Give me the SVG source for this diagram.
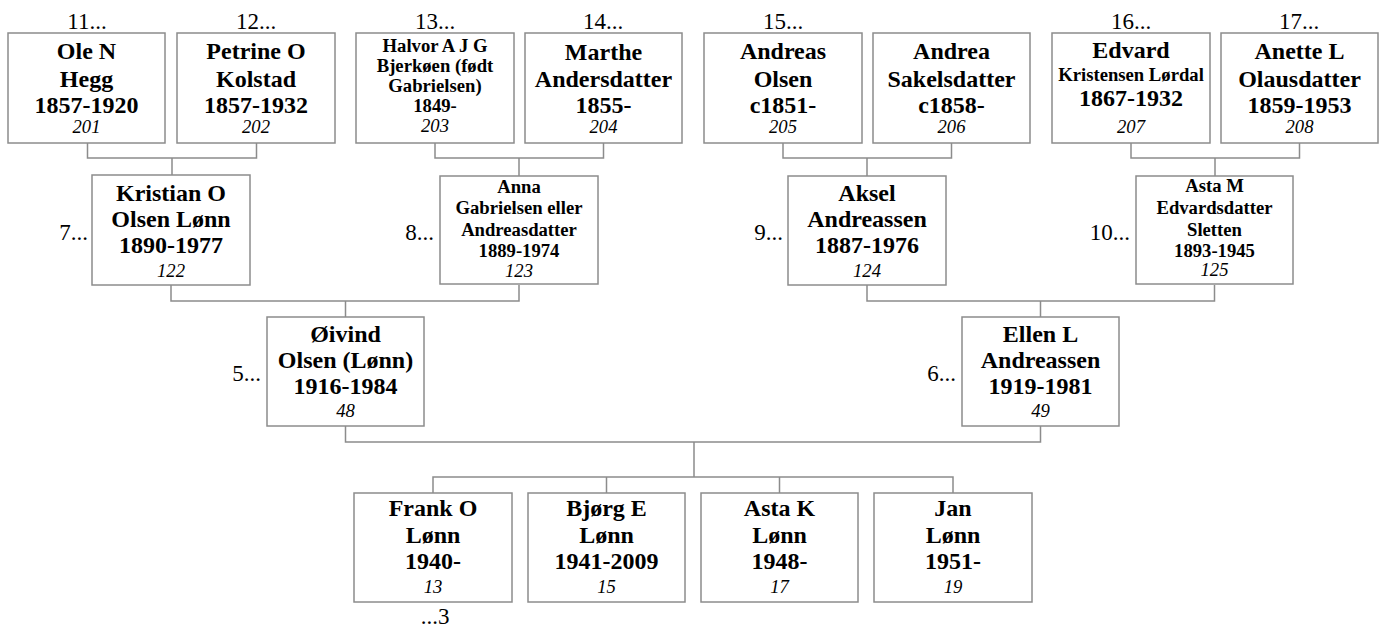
<svg xmlns="http://www.w3.org/2000/svg" width="1381" height="628" viewBox="0 0 1381 628">
<style>
.box{fill:#fff;stroke:#8c8c8c;stroke-width:1.5}
.ln{fill:none;stroke:#8c8c8c;stroke-width:1.5}
text{font-family:"Liberation Serif","Times New Roman",serif;fill:#000;text-anchor:middle}
.b{font-weight:bold;font-size:24px}
.s{font-weight:bold;font-size:18.67px}
.n{font-style:italic;font-size:18.67px}
.l{font-size:23px}
.le{font-size:23px;text-anchor:end}
</style>
<rect width="1381" height="628" fill="#fff"/>
<g id="connectors">
<path class="ln" d="M87.5,143V158H256.5V143M172,158V175"/>
<path class="ln" d="M435,143V158H603.5V143M519,158V176"/>
<path class="ln" d="M783,143V158H951.5V143M867,158V176"/>
<path class="ln" d="M1131,143V158H1299.5V143M1215,158V176"/>
<path class="ln" d="M171,285V301H519V285M345.5,301V317"/>
<path class="ln" d="M867,285V301H1214.5V285M1040.5,301V317"/>
<path class="ln" d="M345.5,426V442H1040.5V426M694,442V477"/>
<path class="ln" d="M433,493V477H953V493M606.5,477V493M779.5,477V493"/>
</g>
<g id="n201"><text class="l" x="87" y="29">11...</text><rect class="box" x="8" y="33" width="157" height="110"/>
<text class="b" x="86.5" y="59">Ole N</text><text class="b" x="86.5" y="87">Hegg</text><text class="b" x="86.5" y="113">1857-1920</text><text class="n" x="86.5" y="133">201</text></g>
<g id="n202"><text class="l" x="256" y="29">12...</text><rect class="box" x="177" y="33" width="158" height="110"/>
<text class="b" x="256" y="59">Petrine O</text><text class="b" x="256" y="87">Kolstad</text><text class="b" x="256" y="113">1857-1932</text><text class="n" x="256" y="133">202</text></g>
<g id="n203"><text class="l" x="435" y="29">13...</text><rect class="box" x="356" y="33" width="158" height="110"/>
<text class="s" x="435" y="52">Halvor A J G</text><text class="s" x="435" y="72">Bjerkøen (født</text><text class="s" x="435" y="92">Gabrielsen)</text><text class="s" x="435" y="112">1849-</text><text class="n" x="435" y="132">203</text></g>
<g id="n204"><text class="l" x="603" y="29">14...</text><rect class="box" x="525" y="33" width="157" height="110"/>
<text class="b" x="603.5" y="60">Marthe</text><text class="b" x="603.5" y="87">Andersdatter</text><text class="b" x="603.5" y="113">1855-</text><text class="n" x="603.5" y="133">204</text></g>
<g id="n205"><text class="l" x="783" y="29">15...</text><rect class="box" x="704" y="33" width="158" height="110"/>
<text class="b" x="783" y="59">Andreas</text><text class="b" x="783" y="87">Olsen</text><text class="b" x="783" y="113">c1851-</text><text class="n" x="783" y="133">205</text></g>
<g id="n206"><rect class="box" x="873" y="33" width="157" height="110"/>
<text class="b" x="951.5" y="59">Andrea</text><text class="b" x="951.5" y="87">Sakelsdatter</text><text class="b" x="951.5" y="113">c1858-</text><text class="n" x="951.5" y="133">206</text></g>
<g id="n207"><text class="l" x="1131" y="29">16...</text><rect class="box" x="1052" y="33" width="158" height="110"/>
<text class="b" x="1131" y="58">Edvard</text><text class="s" x="1131" y="81">Kristensen Lørdal</text><text class="b" x="1131" y="106">1867-1932</text><text class="n" x="1131" y="133">207</text></g>
<g id="n208"><text class="l" x="1299" y="29">17...</text><rect class="box" x="1221" y="33" width="157" height="110"/>
<text class="b" x="1299.5" y="59">Anette L</text><text class="b" x="1299.5" y="87">Olausdatter</text><text class="b" x="1299.5" y="113">1859-1953</text><text class="n" x="1299.5" y="133">208</text></g>
<g id="n122"><text class="le" x="88" y="240">7...</text><rect class="box" x="92" y="175" width="158" height="110"/>
<text class="b" x="171" y="201">Kristian O</text><text class="b" x="171" y="227">Olsen Lønn</text><text class="b" x="171" y="253">1890-1977</text><text class="n" x="171" y="277">122</text></g>
<g id="n123"><text class="le" x="434" y="240">8...</text><rect class="box" x="440" y="176" width="158" height="108"/>
<text class="s" x="519" y="193">Anna</text><text class="s" x="519" y="214">Gabrielsen eller</text><text class="s" x="519" y="236">Andreasdatter</text><text class="s" x="519" y="257">1889-1974</text><text class="n" x="519" y="277">123</text></g>
<g id="n124"><text class="le" x="783" y="240">9...</text><rect class="box" x="788" y="176" width="158" height="109"/>
<text class="b" x="867" y="201">Aksel</text><text class="b" x="867" y="227">Andreassen</text><text class="b" x="867" y="253">1887-1976</text><text class="n" x="867" y="277">124</text></g>
<g id="n125"><text class="le" x="1130" y="240">10...</text><rect class="box" x="1136" y="176" width="157" height="108"/>
<text class="s" x="1214.5" y="192">Asta M</text><text class="s" x="1214.5" y="214">Edvardsdatter</text><text class="s" x="1214.5" y="236">Sletten</text><text class="s" x="1214.5" y="257">1893-1945</text><text class="n" x="1214.5" y="276">125</text></g>
<g id="n48"><text class="le" x="261" y="381">5...</text><rect class="box" x="267" y="317" width="157" height="109"/>
<text class="b" x="345.5" y="342">Øivind</text><text class="b" x="345.5" y="368">Olsen (Lønn)</text><text class="b" x="345.5" y="394">1916-1984</text><text class="n" x="345.5" y="417">48</text></g>
<g id="n49"><text class="le" x="956" y="381">6...</text><rect class="box" x="962" y="317" width="157" height="109"/>
<text class="b" x="1040.5" y="342">Ellen L</text><text class="b" x="1040.5" y="368">Andreassen</text><text class="b" x="1040.5" y="394">1919-1981</text><text class="n" x="1040.5" y="417">49</text></g>
<g id="n13"><rect class="box" x="354" y="493" width="158" height="109"/>
<text class="b" x="433" y="516">Frank O</text><text class="b" x="433" y="543">Lønn</text><text class="b" x="433" y="569">1940-</text><text class="n" x="433" y="593">13</text><text class="l" x="435" y="624">...3</text></g>
<g id="n15"><rect class="box" x="528" y="493" width="157" height="109"/>
<text class="b" x="606.5" y="516">Bjørg E</text><text class="b" x="606.5" y="543">Lønn</text><text class="b" x="606.5" y="569">1941-2009</text><text class="n" x="606.5" y="593">15</text></g>
<g id="n17"><rect class="box" x="701" y="493" width="157" height="109"/>
<text class="b" x="779.5" y="516">Asta K</text><text class="b" x="779.5" y="543">Lønn</text><text class="b" x="779.5" y="569">1948-</text><text class="n" x="779.5" y="593">17</text></g>
<g id="n19"><rect class="box" x="874" y="493" width="158" height="109"/>
<text class="b" x="953" y="516">Jan</text><text class="b" x="953" y="543">Lønn</text><text class="b" x="953" y="569">1951-</text><text class="n" x="953" y="593">19</text></g>
</svg>
